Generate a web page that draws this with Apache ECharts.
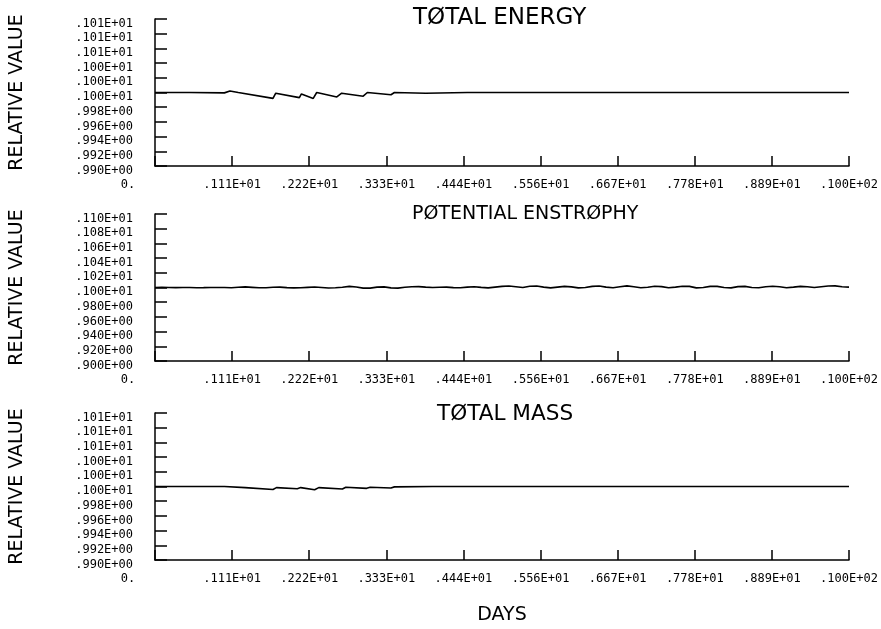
<!DOCTYPE html>
<html>
<head>
<meta charset="utf-8">
<script src="https://cdn.jsdelivr.net/npm/echarts@6/dist/echarts.min.js"></script>
<style>
html, body { margin: 0; padding: 0; background: #fff; }
#main { width: 881px; height: 629px; }
</style>
</head>
<body>
<div id="main"></div>
<script>
// x axis (days)
var xTicks = [0, 1.111, 2.222, 3.333, 4.444, 5.556, 6.667, 7.778, 8.889, 10];
var xTickLabels = ['0.', '.111E+01', '.222E+01', '.333E+01', '.444E+01', '.556E+01',
    '.667E+01', '.778E+01', '.889E+01', '.100E+02'];

// y ticks, bottom to top
var yTicksNarrow = [0.990, 0.992, 0.994, 0.996, 0.998, 1.000, 1.002, 1.004, 1.006, 1.008, 1.010];
var yLabelsNarrow = ['.990E+00', '.992E+00', '.994E+00', '.996E+00', '.998E+00',
    '.100E+01', '.100E+01', '.100E+01', '.101E+01', '.101E+01', '.101E+01'];
var yTicksWide = [0.90, 0.92, 0.94, 0.96, 0.98, 1.00, 1.02, 1.04, 1.06, 1.08, 1.10];
var yLabelsWide = ['.900E+00', '.920E+00', '.940E+00', '.960E+00', '.980E+00',
    '.100E+01', '.102E+01', '.104E+01', '.106E+01', '.108E+01', '.110E+01'];

var titles = ['T\u00d8TAL ENERGY', 'P\u00d8TENTIAL ENSTR\u00d8PHY', 'T\u00d8TAL MASS'];

// total energy
var energyDays = [0, 0.5, 1.0, 1.08, 1.2, 1.7, 1.74, 2.08, 2.11, 2.28, 2.33, 2.38, 2.62, 2.69, 3.0, 3.06, 3.4, 3.45, 3.9, 4.5, 10];
var energyValues = [1.0000, 1.0000, 0.99995, 1.0002, 1.0000, 0.9992, 0.9999, 0.9993, 0.9998, 0.9992, 1.0000, 0.9999,
    0.9994, 0.9999, 0.9995, 1.0000, 0.9997, 1.0000, 0.9999, 1.0000, 1.0000];

// potential enstrophy, every 0.1 day
var enstrophyDays = [0.0, 0.1, 0.2, 0.3, 0.4, 0.5, 0.6, 0.7, 0.8, 0.9, 1.0,
    1.1, 1.2, 1.3, 1.4, 1.5, 1.6, 1.7, 1.8, 1.9, 2.0,
    2.1, 2.2, 2.3, 2.4, 2.5, 2.6, 2.7, 2.8, 2.9, 3.0,
    3.1, 3.2, 3.3, 3.4, 3.5, 3.6, 3.7, 3.8, 3.9, 4.0,
    4.1, 4.2, 4.3, 4.4, 4.5, 4.6, 4.7, 4.8, 4.9, 5.0,
    5.1, 5.2, 5.3, 5.4, 5.5, 5.6, 5.7, 5.8, 5.9, 6.0,
    6.1, 6.2, 6.3, 6.4, 6.5, 6.6, 6.7, 6.8, 6.9, 7.0,
    7.1, 7.2, 7.3, 7.4, 7.5, 7.6, 7.7, 7.8, 7.9, 8.0,
    8.1, 8.2, 8.3, 8.4, 8.5, 8.6, 8.7, 8.8, 8.9, 9.0,
    9.1, 9.2, 9.3, 9.4, 9.5, 9.6, 9.7, 9.8, 9.9, 10.0];
var enstrophyValues = [1.0000, 1.0002, 1.0000, 0.9998, 1.0000, 1.0001, 0.9997, 0.9998, 1.0000, 1.0001, 1.0000,
    0.9997, 1.0004, 1.0008, 1.0002, 0.9996, 0.9997, 1.0003, 1.0005, 0.9998, 0.9995,
    0.9997, 1.0002, 1.0006, 1.0000, 0.9994, 0.9997, 1.0004, 1.0015, 1.0006, 0.9992,
    0.9992, 1.0005, 1.0008, 0.9995, 0.9992, 1.0003, 1.0010, 1.0012, 1.0005, 1.0000,
    1.0003, 1.0005, 0.9998, 0.9997, 1.0005, 1.0010, 1.0002, 0.9995, 1.0005, 1.0015,
    1.0020, 1.0010, 1.0000, 1.0018, 1.0020, 1.0005, 0.9995, 1.0005, 1.0015, 1.0008,
    0.9995, 1.0000, 1.0015, 1.0020, 1.0005, 0.9997, 1.0010, 1.0022, 1.0010, 0.9997,
    1.0003, 1.0018, 1.0012, 0.9997, 1.0005, 1.0018, 1.0015, 0.9995, 1.0000, 1.0015,
    1.0015, 1.0000, 0.9995, 1.0012, 1.0015, 1.0000, 0.9997, 1.0010, 1.0018, 1.0010,
    0.9997, 1.0005, 1.0015, 1.0010, 1.0000, 1.0010, 1.0020, 1.0022, 1.0010, 1.0005];

// total mass
var massDays = [0, 1.0, 1.3, 1.7, 1.75, 2.05, 2.1, 2.3, 2.36, 2.7, 2.75, 3.05, 3.1, 3.4, 3.45, 4.0, 10];
var massValues = [1.0000, 1.0000, 0.99985, 0.9996, 0.99985, 0.9997, 0.99985, 0.99955, 0.99985, 0.99965, 0.9999,
    0.99975, 0.9999, 0.9998, 0.99995, 1.0000, 1.0000];

function pairs(xs, ys) {
    var out = [];
    for (var i = 0; i < xs.length; i++) out.push([xs[i], ys[i]]);
    return out;
}

var plotFont = "'DejaVu Sans', sans-serif";
var tickFont = "'DejaVu Sans Mono', monospace";

var panelTops = [19, 214, 413];
var panelHeight = 147;
var titleLefts = [413, 412, 437];
var titleTops = [7, 205, 403];
var titleSizes = [23, 19, 21.6];

function xAxisFor(i, withName) {
    return {
        type: 'value', gridIndex: i, min: 0, max: 10,
        name: withName ? 'DAYS' : '',
        nameLocation: 'middle', nameGap: 46,
        nameTextStyle: { fontFamily: plotFont, fontSize: 19, color: '#000' },
        axisLine: { show: true, lineStyle: { color: '#000', width: 1.5 } },
        axisTick: { show: true, inside: true, length: 10, customValues: xTicks,
            lineStyle: { color: '#000', width: 1.5 } },
        axisLabel: {
            customValues: xTicks, margin: 13, color: '#000',
            fontFamily: tickFont, fontSize: 12,
            formatter: function (v) {
                var k = xTicks.findIndex(function (t) { return Math.abs(t - v) < 1e-6; });
                if (k === 0) return '{z|' + xTickLabels[0] + '}';
                return k < 0 ? '' : xTickLabels[k];
            },
            rich: { z: { fontFamily: tickFont, fontSize: 12, color: '#000', padding: [0, 54, 0, 0] } }
        },
        splitLine: { show: false }
    };
}

function yAxisFor(i, ticks, labels) {
    return {
        type: 'value', gridIndex: i, min: ticks[0], max: ticks[ticks.length - 1],
        name: 'RELATIVE VALUE', nameLocation: 'middle', nameRotate: 90, nameGap: 128,
        nameTextStyle: { fontFamily: plotFont, fontSize: 19, color: '#000' },
        axisLine: { show: true, lineStyle: { color: '#000', width: 1.5 } },
        axisTick: { show: true, inside: true, length: 12, customValues: ticks,
            lineStyle: { color: '#000', width: 1.5 } },
        axisLabel: {
            customValues: ticks, margin: 22, color: '#000',
            fontFamily: tickFont, fontSize: 12, verticalAlign: 'top', lineHeight: 9,
            formatter: function (v) {
                var k = ticks.findIndex(function (t) { return Math.abs(t - v) < 1e-9; });
                return k < 0 ? '' : labels[k];
            }
        },
        splitLine: { show: false }
    };
}

var chart = echarts.init(document.getElementById('main'));
var option = {
    backgroundColor: '#fff',
    animation: false,
    title: titles.map(function (t, i) {
        return { text: t, left: titleLefts[i], top: titleTops[i], padding: 0,
            textStyle: { fontFamily: plotFont, fontSize: titleSizes[i], fontWeight: 'normal', color: '#000' } };
    }),
    grid: panelTops.map(function (t) {
        return { left: 155, right: 32, top: t, height: panelHeight };
    }),
    xAxis: [xAxisFor(0, false), xAxisFor(1, false), xAxisFor(2, true)],
    yAxis: [
        yAxisFor(0, yTicksNarrow, yLabelsNarrow),
        yAxisFor(1, yTicksWide, yLabelsWide),
        yAxisFor(2, yTicksNarrow, yLabelsNarrow)
    ],
    series: [
        { type: 'line', xAxisIndex: 0, yAxisIndex: 0, data: pairs(energyDays, energyValues) },
        { type: 'line', xAxisIndex: 1, yAxisIndex: 1, data: pairs(enstrophyDays, enstrophyValues) },
        { type: 'line', xAxisIndex: 2, yAxisIndex: 2, data: pairs(massDays, massValues) }
    ].map(function (s) {
        s.showSymbol = false;
        s.symbol = 'none';
        s.lineStyle = { color: '#000', width: 1.6 };
        return s;
    })
};
chart.setOption(option);
</script>
</body>
</html>
